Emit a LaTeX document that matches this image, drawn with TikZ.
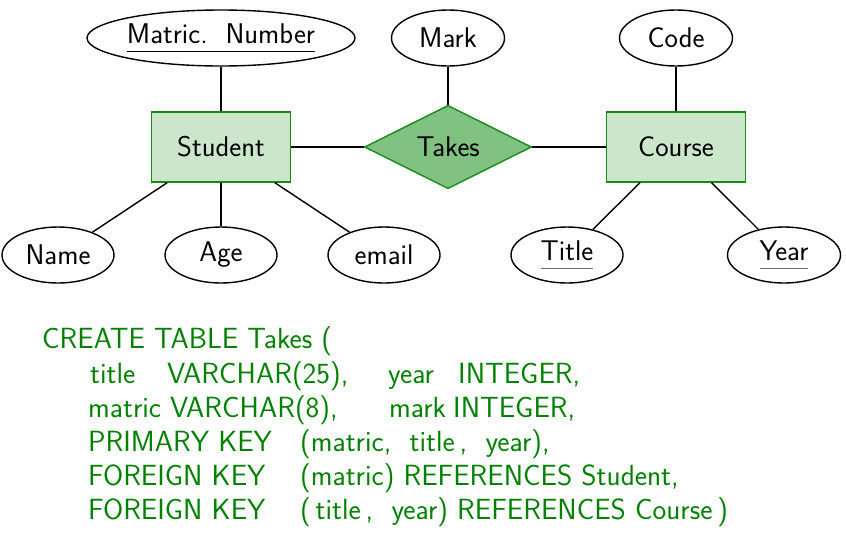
\documentclass[tikz,border=0pt]{standalone}
\usetikzlibrary{shapes.geometric}
\definecolor{entfill}{RGB}{204,230,204}
\definecolor{entdraw}{RGB}{20,140,20}
\definecolor{relfill}{RGB}{128,192,128}
\definecolor{codegreen}{RGB}{0,128,0}
\definecolor{ulgray}{RGB}{110,110,110}
\newcommand{\ulkey}[2]{\setbox0=\hbox{#2}\rlap{\color{#1}\rule[-9pt]{\wd0}{1pt}}\box0}
\begin{document}
\begin{tikzpicture}[x=1pt,y=-1pt,
  font=\sffamily\fontsize{28.5}{32}\selectfont,
  attr/.style={ellipse, draw, line width=1.4pt, inner sep=0pt, minimum height=56pt},
  entity/.style={rectangle, draw=entdraw, fill=entfill, line width=1.4pt, minimum width=139pt, minimum height=70pt},
  rel/.style={diamond, draw=entdraw, fill=relfill, line width=1.4pt, minimum width=167pt, minimum height=82pt, inner sep=0pt},
  code/.style={text=codegreen, anchor=base west, inner sep=0pt, font=\sffamily\fontsize{29.2}{33}\selectfont},
  link/.style={line width=1.4pt}]
\useasboundingbox (0,0) rectangle (846,542);
% entities and relationship
\node[entity] (student) at (221,147) {Student};
\node[rel] (takes) at (448,147) {Takes};
\node[entity] (course) at (676,147) {Course};
% attributes
\node[attr, minimum width=268pt] (matric) at (221,38) {\ulkey{black}{Matric.\ \ Number}};
\node[attr, minimum width=113pt] (mark) at (448,38) {Mark};
\node[attr, minimum width=113pt] (code) at (676,38) {Code};
\node[attr, minimum width=112pt] (name) at (58,255) {Name};
\node[attr, minimum width=112pt] (age) at (221,255) {Age};
\node[attr, minimum width=112pt] (email) at (384,255) {email};
\node[attr, minimum width=112pt] (title) at (567,255) {\ulkey{ulgray}{Title}};
\node[attr, minimum width=113pt] (year) at (784,255) {\ulkey{ulgray}{Year}};
% connectors
\draw[link] (matric) -- (student);
\draw[link] (student) -- (takes);
\draw[link] (takes) -- (course);
\draw[link] (mark) -- (takes);
\draw[link] (code) -- (course);
\draw[link] (student) -- (name);
\draw[link] (student) -- (age);
\draw[link] (student) -- (email);
\draw[link] (course) -- (title);
\draw[link] (course) -- (year);
% SQL code
\node[code] (l1) at (42,348) {CREATE TABLE Takes (};
\node[code] (l2a) at (90,383) {title};
\node[code] (l2b) at (167,383) {VARCHAR(25),};
\node[code] (l2c) at (388,383) {year};
\node[code] (l2d) at (458,383) {INTEGER,};
\node[code] (l3a) at (88,417) {matric};
\node[code] (l3b) at (170,417) {VARCHAR(8),};
\node[code] (l3c) at (389,417) {mark};
\node[code] (l3d) at (453,417) {INTEGER,};
\node[code] (l4a) at (88,451) {PRIMARY KEY};
\node[code] (l4b) at (300,451) {(matric,\ \ title\,,\ \ year),};
\node[code] (l5a) at (88,485) {FOREIGN KEY};
\node[code] (l5b) at (300,485) {(matric) REFERENCES Student,};
\node[code] (l6a) at (88,519) {FOREIGN KEY};
\node[code] (l6b) at (300,519) {(\,title\,,\ \ year) REFERENCES Course\,)};
\end{tikzpicture}
\end{document}
